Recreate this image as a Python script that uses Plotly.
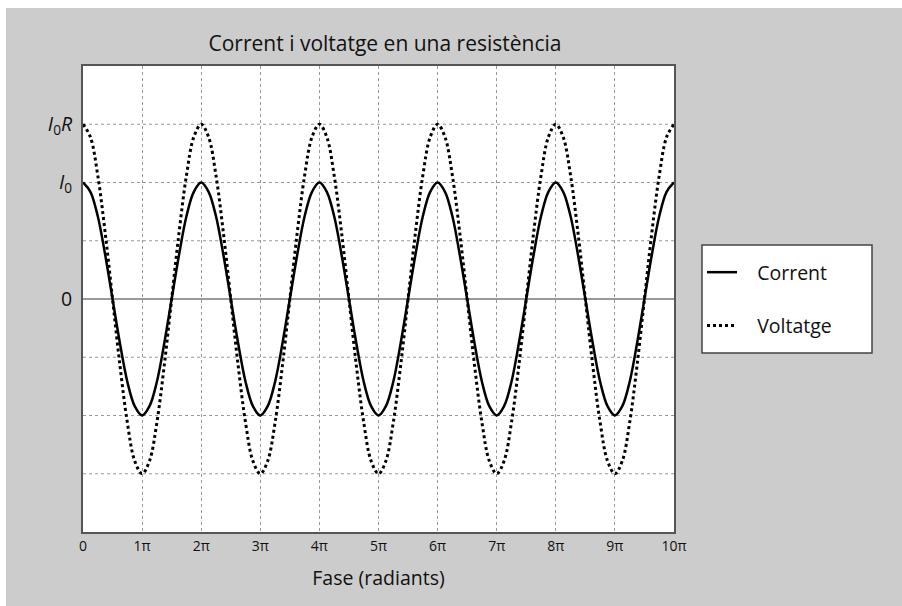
import plotly.graph_objects as go

# Phase in multiples of pi (eighth-pi steps)
phase_pi = [0, 0.125, 0.25, 0.375, 0.5, 0.625, 0.75, 0.875,
            1, 1.125, 1.25, 1.375, 1.5, 1.625, 1.75, 1.875,
            2, 2.125, 2.25, 2.375, 2.5, 2.625, 2.75, 2.875,
            3, 3.125, 3.25, 3.375, 3.5, 3.625, 3.75, 3.875,
            4, 4.125, 4.25, 4.375, 4.5, 4.625, 4.75, 4.875,
            5, 5.125, 5.25, 5.375, 5.5, 5.625, 5.75, 5.875,
            6, 6.125, 6.25, 6.375, 6.5, 6.625, 6.75, 6.875,
            7, 7.125, 7.25, 7.375, 7.5, 7.625, 7.75, 7.875,
            8, 8.125, 8.25, 8.375, 8.5, 8.625, 8.75, 8.875,
            9, 9.125, 9.25, 9.375, 9.5, 9.625, 9.75, 9.875,
            10]
corrent = [1, 0.92, 0.71, 0.38, 0, -0.38, -0.71, -0.92,
           -1, -0.92, -0.71, -0.38, 0, 0.38, 0.71, 0.92,
           1, 0.92, 0.71, 0.38, 0, -0.38, -0.71, -0.92,
           -1, -0.92, -0.71, -0.38, 0, 0.38, 0.71, 0.92,
           1, 0.92, 0.71, 0.38, 0, -0.38, -0.71, -0.92,
           -1, -0.92, -0.71, -0.38, 0, 0.38, 0.71, 0.92,
           1, 0.92, 0.71, 0.38, 0, -0.38, -0.71, -0.92,
           -1, -0.92, -0.71, -0.38, 0, 0.38, 0.71, 0.92,
           1, 0.92, 0.71, 0.38, 0, -0.38, -0.71, -0.92,
           -1, -0.92, -0.71, -0.38, 0, 0.38, 0.71, 0.92,
           1]
voltatge = [1.5, 1.39, 1.06, 0.57, 0, -0.57, -1.06, -1.39,
            -1.5, -1.39, -1.06, -0.57, 0, 0.57, 1.06, 1.39,
            1.5, 1.39, 1.06, 0.57, 0, -0.57, -1.06, -1.39,
            -1.5, -1.39, -1.06, -0.57, 0, 0.57, 1.06, 1.39,
            1.5, 1.39, 1.06, 0.57, 0, -0.57, -1.06, -1.39,
            -1.5, -1.39, -1.06, -0.57, 0, 0.57, 1.06, 1.39,
            1.5, 1.39, 1.06, 0.57, 0, -0.57, -1.06, -1.39,
            -1.5, -1.39, -1.06, -0.57, 0, 0.57, 1.06, 1.39,
            1.5, 1.39, 1.06, 0.57, 0, -0.57, -1.06, -1.39,
            -1.5, -1.39, -1.06, -0.57, 0, 0.57, 1.06, 1.39,
            1.5]

x_tickvals = [0, 1, 2, 3, 4, 5, 6, 7, 8, 9, 10]
x_ticktext = ["0", "1π", "2π", "3π", "4π", "5π", "6π", "7π", "8π", "9π", "10π"]
y_tickvals = [1.5, 1, 0]
y_ticktext = ["<i>I</i><sub>0</sub><i>R</i>", "<i>I</i><sub>0</sub>", "0"]
y_gridvals = [-1.5, -1, -0.5, 0.5, 1, 1.5]
series_names = ["   Corrent", "   Voltatge"]

FONT = "Open Sans"
L, R, T, B = 83, 674, 66, 532
PW, PH = R - L, B - T

fig = go.Figure()
fig.add_trace(go.Scatter(x=phase_pi, y=corrent, mode="lines", name=series_names[0],
                         line=dict(color="black", width=2.5, shape="spline"),
                         legendgroup="a"))
fig.add_trace(go.Scatter(x=phase_pi, y=voltatge, mode="lines", name=series_names[1],
                         line=dict(color="black", width=3, dash="dot", shape="spline"),
                         legendgroup="b"))

fig.update_layout(
    width=902, height=606,
    margin=dict(l=L, r=902 - R, t=T, b=606 - B),
    paper_bgcolor="#cccccc",
    plot_bgcolor="white",
    font=dict(family=FONT, color="#111111"),
    title=dict(text="Corrent i voltatge en una resistència", x=385 / 902,
               xanchor="center", y=1 - 44 / 606, yanchor="middle",
               font=dict(size=21, family=FONT, color="#111111")),
    showlegend=True,
    legend=dict(x=(702 - L) / PW, xanchor="left", y=(B - 253) / PH, yanchor="top",
                bgcolor="rgba(0,0,0,0)", borderwidth=0,
                font=dict(size=19.5, family=FONT, color="#111111"),
                tracegroupgap=25, entrywidth=125),
    xaxis=dict(range=[0, 10], tickvals=x_tickvals, ticktext=x_ticktext,
               showgrid=True, gridcolor="#999999", griddash="dot", gridwidth=1,
               showline=True, linecolor="#555555", linewidth=2, mirror=True,
               zeroline=False, ticks="", tickfont=dict(size=14, family=FONT),
               title=dict(text="Fase (radiants)", font=dict(size=19.5, family=FONT),
                          standoff=18)),
    yaxis=dict(range=[-2, 2], tickvals=y_tickvals, ticktext=y_ticktext,
               showgrid=False,
               showline=True, linecolor="#555555", linewidth=2, mirror=True,
               zeroline=True, zerolinecolor="#999999", zerolinewidth=2,
               ticks="", tickfont=dict(size=19.5, family=FONT), ticklabelstandoff=5),
)

# horizontal dotted grid lines every 0.5
for gv in y_gridvals:
    fig.add_shape(type="line", xref="x", yref="y", x0=0, x1=10, y0=gv, y1=gv,
                  line=dict(color="#999999", width=1, dash="dot"), layer="below")

# legend frame
fig.add_shape(type="rect", xref="paper", yref="paper",
              x0=(702 - L) / PW, x1=(872 - L) / PW, y0=(B - 353) / PH, y1=(B - 245) / PH,
              fillcolor="white", line=dict(color="#444444", width=1.5), layer="below")

# thin white strips at top and left edges
fig.add_shape(type="rect", xref="paper", yref="paper",
              x0=-L / PW, x1=(902 - L) / PW, y0=(B - 8) / PH, y1=B / PH,
              fillcolor="white", line=dict(width=0), layer="above")
fig.add_shape(type="rect", xref="paper", yref="paper",
              x0=-L / PW, x1=(6 - L) / PW, y0=(B - 606) / PH, y1=B / PH,
              fillcolor="white", line=dict(width=0), layer="above")

fig.write_html("out.html")
